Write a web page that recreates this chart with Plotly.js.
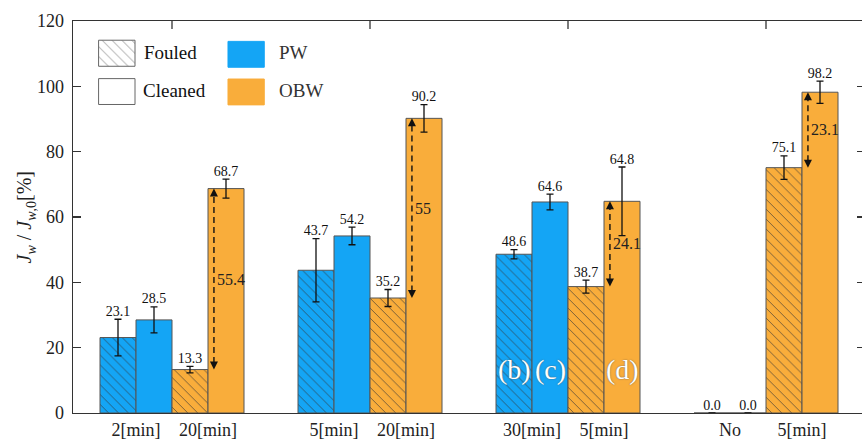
<!DOCTYPE html>
<html>
<head>
<meta charset="utf-8">
<script src="https://cdn.plot.ly/plotly-3.0.1.min.js"></script>
<style>html,body{margin:0;padding:0;overflow:hidden;background:#fff}</style>
</head>
<body>
<div id="chart" style="width:870px;height:440px"></div>
<script>
// ---- data ----
const groups = [1, 2, 3, 4];
const pwFouled = [23.1, 43.7, 48.6, 0.0];
const pwCleaned = [28.5, 54.2, 64.6, 0.0];
const obwFouled = [13.3, 35.2, 38.7, 75.1];
const obwCleaned = [68.7, 90.2, 64.8, 98.2];
const pwFouledErr = [5.6, 9.7, 1.4, 0.0];
const pwCleanedErr = [4.0, 2.7, 2.4, 0.0];
const obwFouledErr = [1.0, 2.6, 2.0, 3.6];
const obwCleanedErr = [2.9, 4.2, 10.5, 3.4];
const tickLabels = ["2[min]", "20[min]", "5[min]", "20[min]", "30[min]", "5[min]", "No", "5[min]"];
const recoveryLabels = ["55.4", "55", "24.1", "23.1"];
const panelLabels = ["(b)", "(c)", "(d)"];
const legendNames = ["Fouled", "Cleaned", "PW", "OBW"];

// ---- styles ----
const FONT = "Liberation Serif, DejaVu Serif, serif";
const PW = "#14A5F5", OBW = "#F9AD3B";
const W = 36 / 198;            // bar width in axis units
const offs = [-1.5 * W, -0.5 * W, 0.5 * W, 1.5 * W];
const hatch = {shape: "\\", fgcolor: "#333", fgopacity: 0.75, size: 7, solidity: 0.12};

function barTrace(vals, errs, k, color, fouled) {
  return {
    type: "bar", x: groups.map(g => g + offs[k]), y: vals, width: W,
    marker: {
      color: color,
      line: {color: "#555", width: 1},
      pattern: fouled ? Object.assign({bgcolor: color}, hatch) : {shape: ""}
    },
    error_y: {type: "data", array: errs, visible: true, color: "#111", thickness: 1.3, width: 3.5},
    showlegend: false, hoverinfo: "skip"
  };
}

const series = [
  [pwFouled, pwFouledErr, PW, true],
  [pwCleaned, pwCleanedErr, PW, false],
  [obwFouled, obwFouledErr, OBW, true],
  [obwCleaned, obwCleanedErr, OBW, false]
];

const traces = series.map((s, k) => barTrace(s[0], s[1], k, s[2], s[3]));

// value labels above error bars
const lx = [], ly = [], lt = [];
series.forEach((s, k) => {
  groups.forEach((g, i) => {
    lx.push(g + offs[k]); ly.push(s[0][i] + s[1][i]); lt.push(s[0][i].toFixed(1));
  });
});
traces.push({
  type: "scatter", mode: "text", x: lx, y: ly, text: lt, textposition: "top center",
  textfont: {family: FONT, size: 14, color: "#111"}, showlegend: false, hoverinfo: "skip", cliponaxis: false
});

// dashed recovery arrows
const ARR = W + 0.03;
const dx = [], dy = [];
groups.forEach((g, i) => {
  dx.push(g + ARR, g + ARR, null);
  dy.push(obwFouled[i] + 2, obwCleaned[i] - 2, null);
});
traces.push({
  type: "scatter", mode: "lines", x: dx, y: dy,
  line: {color: "#111", width: 1.4, dash: "6px,4px"}, showlegend: false, hoverinfo: "skip"
});
traces.push({
  type: "scatter", mode: "markers", x: groups.map(g => g + ARR), y: obwCleaned,
  marker: {symbol: "arrow-up", size: 8, color: "#111", line: {width: 0}}, showlegend: false, hoverinfo: "skip"
});
traces.push({
  type: "scatter", mode: "markers", x: groups.map(g => g + ARR), y: obwFouled,
  marker: {symbol: "arrow-down", size: 8, color: "#111", line: {width: 0}}, showlegend: false, hoverinfo: "skip"
});

// legend boxes (paper coordinates)
const legBoxes = [
  {x0: 0.0323, x1: 0.0783, y0: 0.8845, y1: 0.951, color: "#fff", line: "#666"},
  {x0: 0.0323, x1: 0.0783, y0: 0.787, y1: 0.853, color: "#fff", line: "#666"},
  {x0: 0.1957, x1: 0.2415, y0: 0.882, y1: 0.948, color: PW, line: PW},
  {x0: 0.1957, x1: 0.2415, y0: 0.786, y1: 0.852, color: OBW, line: OBW}
];
const fb = legBoxes[0];
traces.push({
  type: "bar", xaxis: "x2", yaxis: "y2",
  x: [(fb.x0 + fb.x1) / 2], width: [fb.x1 - fb.x0], base: [fb.y0], y: [fb.y1 - fb.y0],
  marker: {color: "#fff", line: {color: fb.line, width: 1},
    pattern: {shape: "\\", fgcolor: "#666", fgopacity: 0.9, size: 7, solidity: 0.1, bgcolor: "#fff"}},
  showlegend: false, hoverinfo: "skip"
});

const shapes = legBoxes.slice(1).map(b => ({type: "rect", xref: "paper", yref: "paper",
  x0: b.x0, x1: b.x1, y0: b.y0, y1: b.y1, fillcolor: b.color, line: {color: b.line, width: 1}}));

// top-edge ticks at group centres
const TL = 8 / 392;
groups.forEach(g => shapes.push({type: "line", xref: "x", yref: "paper",
  x0: g, x1: g, y0: 1, y1: 1 - TL, line: {color: "#333", width: 1.3}}));

// annotations
const ann = [];
groups.forEach((g, i) => {
  ann.push({x: g + ARR, y: (obwCleaned[i] + obwFouled[i]) / 2, xref: "x", yref: "y", text: recoveryLabels[i],
    xanchor: "left", yanchor: "middle", xshift: 1, showarrow: false, font: {family: FONT, size: 16, color: "#222"}});
});
const panelX = [3 + offs[0], 3 + offs[1], 3 + offs[3]];
panelLabels.forEach((t, i) => ann.push({x: panelX[i], y: 13.3, xref: "x", yref: "y", text: t, showarrow: false,
  xanchor: "center", yanchor: "middle",
  font: {family: FONT, size: 28, color: "#fff", shadow: "0px 0px 1.5px #555"}}));
const legTextPos = [[0.087, 0.919], [0.086, 0.822], [0.258, 0.919], [0.258, 0.822]];
legendNames.forEach((name, i) =>
  ann.push({x: legTextPos[i][0], y: legTextPos[i][1], xref: "paper", yref: "paper", text: name,
    xanchor: "left", yanchor: "middle", showarrow: false,
    font: {family: FONT, size: 19, color: i < 2 ? "#111" : "#333"}}));
ann.push({x: -0.06, y: 0.5, xref: "paper", yref: "paper", textangle: -90, showarrow: false,
  xanchor: "center", yanchor: "middle",
  text: "<i>J<sub>w</sub></i> / <i>J</i><sub><i>w</i>,0</sub>[%]", font: {family: FONT, size: 20, color: "#222"}});

const tickVals = [];
groups.forEach(g => { tickVals.push(g - W, g + W); });

const layout = {
  width: 870, height: 440,
  margin: {l: 73, r: 5, t: 21, b: 27},
  paper_bgcolor: "#fff", plot_bgcolor: "#fff",
  barmode: "overlay",
  font: {family: FONT, color: "#222"},
  xaxis: {range: [0.5, 4.5], tickvals: tickVals, ticktext: tickLabels, ticks: "", showgrid: false, zeroline: false,
    showline: true, mirror: true, linecolor: "#333", linewidth: 1.3, tickfont: {family: FONT, size: 18, color: "#222"}},
  xaxis2: {overlaying: "x", anchor: "y2", range: [0, 1], visible: false, fixedrange: true},
  yaxis2: {overlaying: "y", anchor: "x2", range: [0, 1], visible: false, fixedrange: true},
  yaxis: {range: [0, 120], tickvals: [0, 20, 40, 60, 80, 100, 120], ticks: "inside", ticklen: 8, tickcolor: "#333",
    tickwidth: 1.3, showline: true, mirror: "ticks", linecolor: "#333", linewidth: 1.3, showgrid: false, zeroline: false,
    ticklabelstandoff: 4, tickfont: {family: FONT, size: 18, color: "#222"}},
  shapes: shapes,
  annotations: ann,
  showlegend: false
};

Plotly.newPlot("chart", traces, layout, {displayModeBar: false, staticPlot: true});
</script>
</body>
</html>
